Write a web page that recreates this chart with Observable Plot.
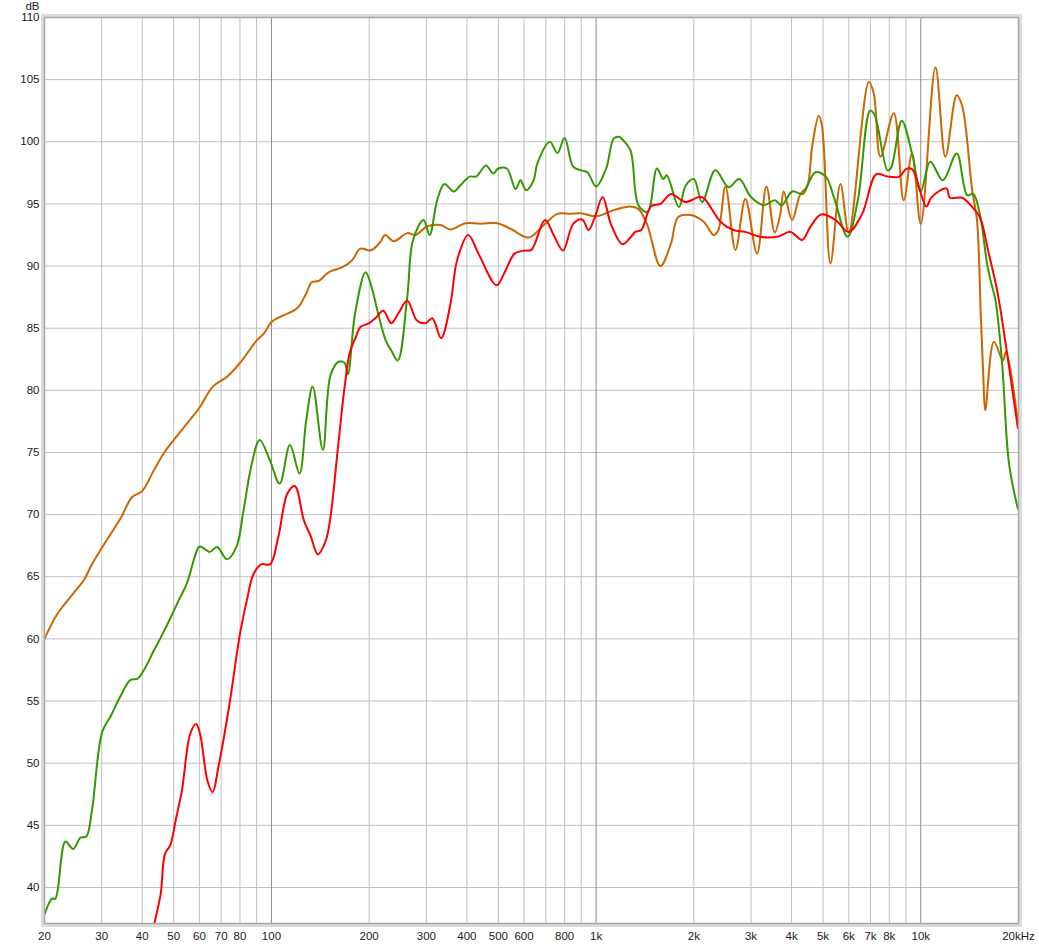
<!DOCTYPE html>
<html>
<head>
<meta charset="utf-8">
<script src="https://cdn.jsdelivr.net/npm/d3@7"></script>
<script src="https://cdn.jsdelivr.net/npm/@observablehq/plot@0.6"></script>
<style>
  html, body { margin: 0; padding: 0; background: #ffffff; }
  #chart svg { display: block; }
</style>
</head>
<body>
<div id="chart"></div>
<script>
// ---- tick labels & grid ----
const xTickValues = [20,30,40,50,60,70,80,100,200,300,400,500,600,800,1000,2000,3000,4000,5000,6000,7000,8000,10000,20000];
const xTickLabels = ["20","30","40","50","60","70","80","100","200","300","400","500","600","800","1k","2k","3k","4k","5k","6k","7k","8k","10k","20kHz"];
const yTickValues = [40,45,50,55,60,65,70,75,80,85,90,95,100,105,110];
const minorGridX = [30,40,50,60,70,80,90,200,300,400,500,600,700,800,900,2000,3000,4000,5000,6000,7000,8000,9000];
const majorGridX = [100,1000,10000];
const gridY = [40,45,50,55,60,65,70,75,80,85,90,95,100,105];

// ---- series: [frequency Hz, level dB] ----
const orange = [
  [20,60.0],[21.9,62.0],[24.6,63.7],[26.4,64.7],[28,66.0],[30,67.3],[34.3,69.7],[37.2,71.4],[40,71.9],
  [43.5,73.6],[46.5,74.9],[50,76.0],[56,77.6],[60,78.6],[66,80.3],[73,81.1],[80,82.2],[90,84.0],[95,84.6],
  [100,85.5],[106,85.9],[120,86.6],[128,87.8],[133,88.7],[140,88.8],[150,89.5],[165,89.9],[177,90.45],
  [188,91.4],[202,91.25],[216,91.9],[224,92.5],[238,92.0],[262,92.65],[278,92.5],[302,93.2],[332,93.3],
  [356,92.95],[396,93.45],[440,93.4],[497,93.45],[545,93.0],[620,92.3],[690,93.3],[759,94.2],[835,94.2],
  [900,94.25],[1000,94.0],[1133,94.5],[1276,94.8],[1350,94.6],[1434,93.4],[1578,90.0],[1700,91.8],
  [1790,93.95],[1953,94.1],[2148,93.55],[2303,92.5],[2380,92.9],[2503,96.4],[2687,91.3],[2883,95.4],
  [3131,91.0],[3346,96.4],[3550,92.7],[3694,94.2],[3783,96.0],[4015,93.7],[4258,95.8],[4467,96.4],
  [4628,99.6],[4850,102.1],[4968,101.2],[5270,90.2],[5657,96.6],[6000,92.7],[6913,104.8],[7163,103.9],
  [7510,98.8],[8257,102.3],[8861,95.3],[9401,99.05],[10000,93.4],[11100,106.0],[11910,98.8],[12900,103.75],
  [13410,102.9],[14400,96.1],[14900,93.7],[15300,86.2],[15600,80.8],[15800,78.4],[16800,83.9],
  [17900,82.4],[18300,83.1],[20000,77.0]
];
const green = [
  [20,37.85],[21.1,39.1],[21.6,39.1],[23.2,43.7],[24.5,43.1],[25.8,44.0],[26.9,44.1],[28,46.2],[30.1,52.5],
  [32,53.8],[34.3,55.4],[36.8,56.7],[38.7,56.8],[40.4,57.45],[43.5,59.1],[45.6,60.1],[48.9,61.7],[51.8,63.1],
  [54.8,64.4],[59.8,67.4],[61,67.4],[64.5,67.0],[68,67.4],[73,66.4],[78,67.4],[82,70.3],[87,74.1],[92,76.0],
  [99,74.35],[106,72.5],[114,75.6],[122,73.3],[128,77.6],[134,80.3],[144,75.2],[152,81.2],[161,82.3],
  [168,82.2],[172,81.3],[181,86.2],[195,89.5],[204,88.2],[213,86.2],[225,84.0],[234,83.2],[245,82.4],
  [262,87.5],[273,92.1],[294,93.7],[307,92.5],[324,95.3],[341,96.6],[364,96.0],[382,96.5],[408,97.2],
  [427,97.2],[458,98.1],[482,97.45],[500,97.85],[531,97.85],[565,96.2],[585,96.9],[608,96.1],[640,96.8],
  [660,98.3],[720,100.0],[760,99.1],[800,100.3],[850,98.0],[900,97.7],[940,97.55],[1000,96.4],[1074,97.85],
  [1133,100.25],[1175,100.4],[1205,100.2],[1276,99.3],[1350,94.9],[1440,94.35],[1540,97.85],[1610,97.0],
  [1650,97.3],[1800,94.75],[1890,96.5],[2000,97.0],[2120,95.15],[2330,97.7],[2560,96.35],[2760,97.0],
  [3000,95.55],[3290,94.9],[3550,95.3],[3730,94.9],[4020,96.0],[4330,95.8],[4500,96.6],[4740,97.55],
  [5100,97.2],[5400,95.55],[5950,92.35],[6400,95.3],[6980,102.5],[7200,102.2],[7900,97.7],[8100,97.9],
  [8740,101.7],[9400,99.05],[10000,96.0],[10700,98.4],[11700,96.9],[12900,99.05],[13900,95.7],[14500,95.8],
  [15200,94.2],[16000,90.2],[16400,88.85],[17000,87.2],[17800,82.2],[18700,74.1],[19900,70.5]
];
const red = [
  [42,35.0],[43.7,37.2],[45.6,39.5],[47,42.7],[48.8,43.4],[50.7,45.4],[53,47.8],[56.2,52.35],[58.6,53.15],
  [60.3,52.35],[63.5,48.6],[65.9,47.65],[68.6,49.65],[74,54.5],[80,60.4],[84,63.1],[88,65.2],[93,66.0],
  [99,66.0],[105,68.2],[112,71.7],[118,72.3],[126,69.5],[132,68.3],[139,66.8],[147,67.9],[152,69.8],
  [160,75.2],[168,80.25],[174,82.95],[182,84.3],[188,85.1],[200,85.4],[209,85.8],[221,86.4],[234,85.4],
  [246,86.2],[262,87.2],[281,85.6],[298,85.4],[313,85.8],[333,84.2],[356,86.95],[373,90.45],[404,92.5],
  [434,91.0],[494,88.45],[523,89.5],[561,91.0],[603,91.25],[632,91.3],[696,93.7],[740,92.5],[791,91.25],
  [850,93.4],[906,93.75],[948,92.9],[990,93.9],[1048,95.55],[1110,93.4],[1205,91.75],[1276,92.3],
  [1320,92.75],[1378,92.9],[1475,94.8],[1578,95.0],[1700,95.8],[1819,95.35],[1890,95.15],[2080,95.55],
  [2150,95.45],[2420,93.55],[2650,92.9],[2880,92.75],[3200,92.35],[3610,92.35],[3970,92.75],[4311,92.1],
  [4570,93.15],[4930,94.15],[5470,93.7],[6000,92.75],[6600,94.2],[7300,97.4],[7900,97.2],[8600,97.2],
  [9000,97.8],[9400,97.8],[10400,94.8],[10800,95.55],[12000,96.25],[12300,95.5],[13400,95.5],[14400,94.75],
  [15200,93.95],[16200,91.0],[17200,88.0],[18200,84.0],[19900,77.0]
];

const rows = arr => arr.map(([f, db]) => ({f, db}));

const chart = Plot.plot({
  width: 1039,
  height: 947,
  marginLeft: 44,
  marginRight: 21,
  marginTop: 17,
  marginBottom: 24,
  style: {fontFamily: "'Liberation Sans', Arial, sans-serif", fontSize: "11.5px", color: "#1a1a1a", background: "#ffffff"},
  x: {type: "log", domain: [20, 20000], axis: null},
  y: {domain: [37.1, 110], axis: null},
  marks: [
    Plot.ruleY(gridY, {stroke: "#c0c0c0", strokeWidth: 1}),
    Plot.ruleX(minorGridX, {stroke: "#c0c0c0", strokeWidth: 1}),
    Plot.ruleX(majorGridX, {stroke: "#8a8a8a", strokeWidth: 1}),
    Plot.line(rows(orange), {x: "f", y: "db", stroke: "#cc6600", strokeWidth: 2, curve: "catmull-rom", clip: true}),
    Plot.line(rows(green), {x: "f", y: "db", stroke: "#339900", strokeWidth: 2, curve: "catmull-rom", clip: true}),
    Plot.line(rows(red), {x: "f", y: "db", stroke: "#ff0000", strokeWidth: 2, curve: "catmull-rom", clip: true}),
    Plot.frame({stroke: "#dcdcdc", strokeWidth: 4, inset: -1.5}),
    Plot.frame({stroke: "#a8a8a8", strokeWidth: 1.5}),
    Plot.text(xTickValues, {x: d => d, text: (d, i) => xTickLabels[i], frameAnchor: "bottom", lineAnchor: "middle", dy: 13, fill: "#1a1a1a"}),
    Plot.text(yTickValues, {y: d => d, text: d => String(d), frameAnchor: "left", textAnchor: "end", lineAnchor: "middle", dx: -5, fill: "#1a1a1a"}),
    Plot.text(["dB"], {text: d => d, frameAnchor: "top-left", dx: -12, dy: -11, textAnchor: "middle", lineAnchor: "middle", fill: "#1a1a1a"})
  ]
});
document.getElementById("chart").appendChild(chart);
</script>
</body>
</html>
